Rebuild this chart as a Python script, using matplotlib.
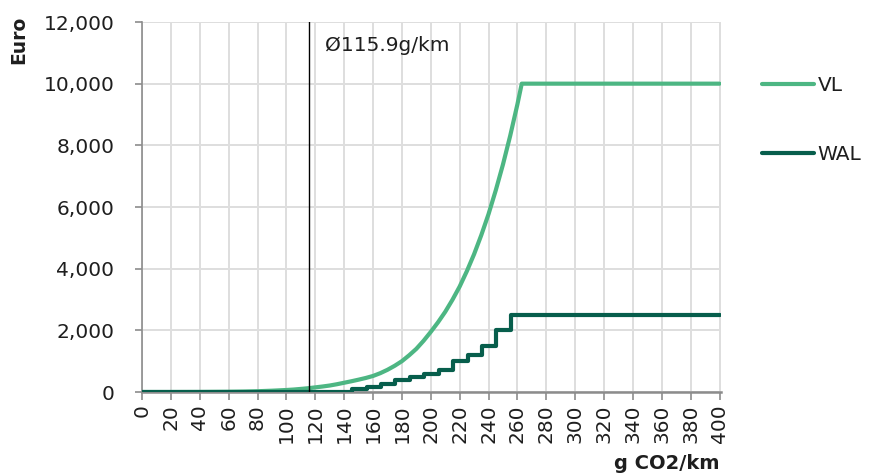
import matplotlib
matplotlib.use("Agg")
import matplotlib.pyplot as plt
from matplotlib.ticker import FuncFormatter, MultipleLocator

# --- data ---
vl_x = [0, 20, 40, 60, 70, 80, 90, 100, 105, 110, 115, 120, 125, 130, 135,
        140, 145, 150, 155, 160, 165, 170, 175, 180, 185, 190, 195, 200, 205,
        210, 215, 220, 225, 230, 235, 240, 245, 250, 255, 260, 263, 400]
vl_y = [0, 0, 2, 8, 14, 25, 42, 65, 80, 100, 122, 150, 178, 210, 252,
        300, 348, 400, 455, 520, 610, 720, 850, 1000, 1190, 1400, 1660, 1950, 2260,
        2600, 2990, 3420, 3920, 4470, 5090, 5770, 6540, 7380, 8310, 9330, 10000, 10000]

wal_x = [0, 145.5, 155.5, 165.5, 175.5, 185.5, 195.5, 205.5, 215.5, 225.5,
         235.5, 245.5, 255.5, 400]
wal_y = [0, 100, 175, 250, 375, 500, 600, 700, 1000, 1200, 1500, 2000, 2500, 2500]

avg_value = 115.9
avg_label = "Ø115.9g/km"
series_names = ["VL", "WAL"]
x_label = "g CO2/km"
y_label = "Euro"

VL_COLOR = "#4DB683"
WAL_COLOR = "#075E4C"
GRID = "#DEDEDE"
SPINE = "#8C8C8C"
TXT = "#1E1E1E"

plt.rcParams["font.family"] = ["DejaVu Sans"]
FS = 14.5

fig = plt.figure(figsize=(8.73, 4.73), dpi=100)
ax = fig.add_axes([142 / 873, 1 - 392 / 473, (721 - 142) / 873, (392 - 22) / 473])

ax.plot(vl_x, vl_y, color=VL_COLOR, lw=3, label=series_names[0],
        solid_capstyle="round", solid_joinstyle="round", zorder=3)
ax.plot(wal_x, wal_y, color=WAL_COLOR, lw=3, drawstyle="steps-post",
        label=series_names[1], solid_capstyle="round", zorder=4)

ax.axvline(avg_value, color="black", lw=1.0, zorder=5)
ax.text(avg_value + 11, 11250, avg_label, fontsize=FS, color=TXT,
        va="center", ha="left")

ax.set_xlim(0, 401)
ax.set_ylim(0, 12000)
ax.xaxis.set_major_locator(MultipleLocator(20))
ax.yaxis.set_major_locator(MultipleLocator(2000))
ax.yaxis.set_major_formatter(FuncFormatter(lambda v, p: f"{int(v):,}"))

ax.grid(True, color=GRID, lw=1.4, zorder=0)
ax.set_axisbelow(True)

for s in ["top", "right"]:
    ax.spines[s].set_visible(False)
ax.spines["left"].set_color(SPINE)
ax.spines["left"].set_linewidth(1.2)
ax.spines["bottom"].set_color(SPINE)
ax.spines["bottom"].set_linewidth(1.8)

ax.tick_params(axis="x", direction="out", length=6, width=1.2, color=SPINE,
               labelsize=FS, labelcolor=TXT, labelrotation=90, pad=3)
ax.tick_params(axis="y", direction="out", length=5, width=1.2, color=SPINE,
               labelsize=FS, labelcolor=TXT, pad=15)

fig.text(719 / 873, 1 - 463 / 473, x_label, fontsize=14, fontweight="bold",
         ha="right", va="center", color=TXT)
fig.text(19 / 873, 1 - 16 / 473, y_label, fontsize=13.5, fontweight="bold",
         ha="center", va="top", rotation=90, color=TXT)

leg = ax.legend(loc="upper left", bbox_to_anchor=(1.057, 0.876), frameon=False,
                fontsize=FS, handlelength=2.6, handletextpad=0.15,
                labelspacing=2.5, borderaxespad=0)
for t in leg.get_texts():
    t.set_color(TXT)

fig.savefig("out.png", dpi=100)
